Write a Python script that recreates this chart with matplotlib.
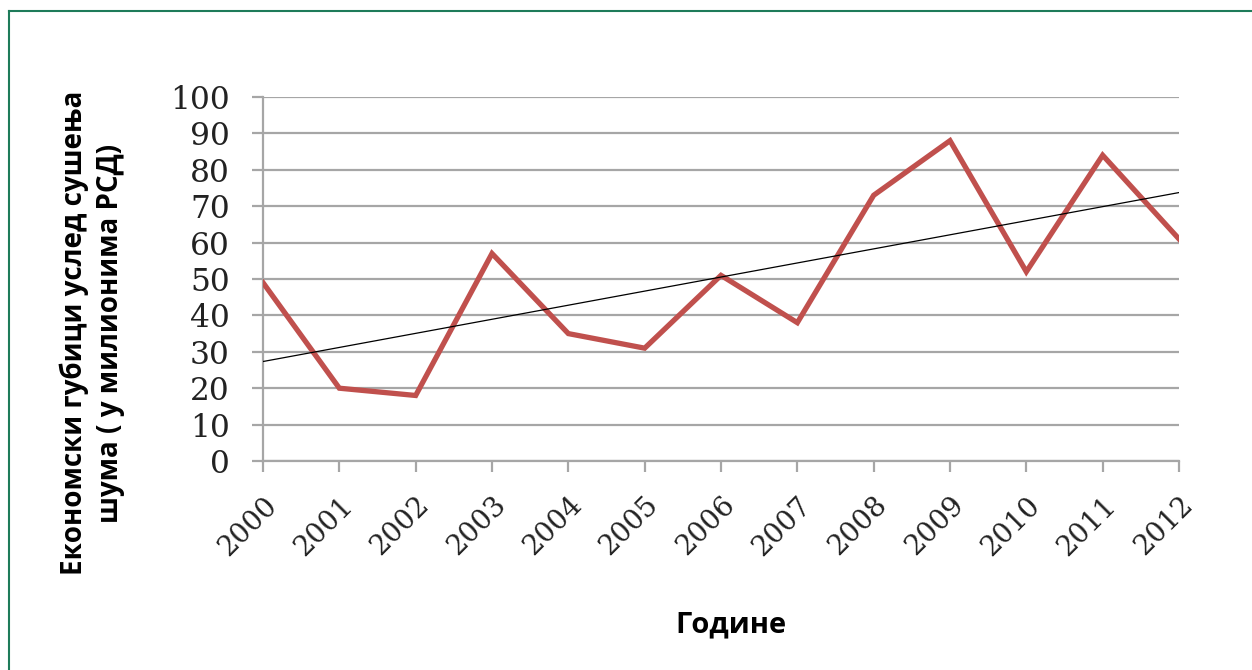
import matplotlib
matplotlib.use("Agg")
import matplotlib.pyplot as plt
import numpy as np
from matplotlib.lines import Line2D

years = ["2000", "2001", "2002", "2003", "2004", "2005", "2006",
         "2007", "2008", "2009", "2010", "2011", "2012"]
losses = [49, 20, 18, 57, 35, 31, 51, 38, 73, 88, 52, 84, 61]
y_ticks = [0, 10, 20, 30, 40, 50, 60, 70, 80, 90, 100]

W, H = 1252, 670
fig = plt.figure(figsize=(W / 100, H / 100), dpi=100)
fig.patch.set_facecolor("white")

ax = fig.add_axes([263 / W, 1 - 461 / H, (1179 - 263) / W, (461 - 97) / H])

x = np.arange(len(years))
grid_c = "#a6a6a6"
for v in y_ticks:
    ax.axhline(v, color=grid_c, lw=1.6, zorder=1)

ax.plot(x, losses, color="#c0504d", lw=3.8, solid_joinstyle="miter", zorder=3)
coef = np.polyfit(x, losses, 1)
ax.plot(x, np.polyval(coef, x), color="black", lw=0.9, zorder=4)

ax.set_xlim(0, len(years) - 1)
ax.set_ylim(0, 100)
ax.set_yticks(y_ticks)
ax.set_xticks(x)
ax.set_xticklabels(years, rotation=45, ha="right", rotation_mode="anchor",
                   family="DejaVu Serif", fontsize=20, color="#222222")
ax.set_yticklabels([str(v) for v in y_ticks], family="DejaVu Serif",
                   fontsize=22.5, color="#222222")
for s in ["top", "right"]:
    ax.spines[s].set_visible(False)
for s in ["left", "bottom"]:
    ax.spines[s].set_color(grid_c)
    ax.spines[s].set_linewidth(1.6)
ax.tick_params(axis="both", color=grid_c, width=1.6, length=8, direction="out")
ax.tick_params(axis="y", pad=16)
ax.tick_params(axis="x", pad=14)
ax.set_facecolor("white")

fig.text(92 / W, 1 - 333 / H,
         "Економски губици услед сушења\nшума ( у милионима РСД)",
         rotation=90, ha="center", va="center", multialignment="center",
         family=["Open Sans", "DejaVu Sans"], fontweight="bold", fontsize=20,
         linespacing=1.3)
fig.text(731 / W, 1 - 625 / H, "Године", ha="center", va="center",
         family=["Open Sans", "DejaVu Sans"], fontweight="bold", fontsize=21)

bc = "#1e7b5a"
fig.add_artist(Line2D([9 / W, 1.0], [1 - 11 / H, 1 - 11 / H], color=bc, lw=1.5,
                      transform=fig.transFigure))
fig.add_artist(Line2D([9 / W, 9 / W], [0.0, 1 - 11 / H], color=bc, lw=1.5,
                      transform=fig.transFigure))

fig.savefig("out.png", dpi=100, facecolor="white")
